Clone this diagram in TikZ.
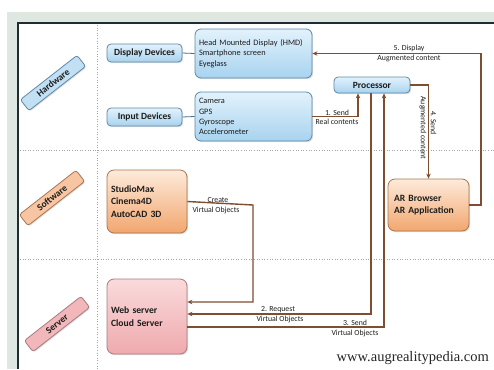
\documentclass[tikz,border=0pt]{standalone}
\usepackage{fontspec}
\setmainfont{Carlito}
\newfontfamily\urlfont{Liberation Serif}
\usetikzlibrary{arrows.meta,shadows}
\definecolor{bluetop}{HTML}{E2F2FC}
\definecolor{bluebot}{HTML}{A8D3EF}
\definecolor{blueline}{HTML}{5F88A8}
\definecolor{orgtop}{HTML}{FDEBDB}
\definecolor{orgbot}{HTML}{F2A66E}
\definecolor{orgline}{HTML}{A8764F}
\definecolor{pinktop}{HTML}{FADADB}
\definecolor{pinkbot}{HTML}{EFAAAE}
\definecolor{pinkline}{HTML}{A87C7E}
\definecolor{brownarr}{HTML}{7E4E30}
\definecolor{frameband}{HTML}{DFE7E1}
\definecolor{framedark}{HTML}{1E2C33}
\definecolor{txt}{HTML}{1C1C1C}
\tikzset{
  base/.style={rounded corners=4pt, draw, line width=0.8pt, text=txt,
    drop shadow={opacity=0.25, shadow xshift=1.2pt, shadow yshift=-1.2pt}},
  bluebox/.style={base, draw=blueline, top color=bluetop, bottom color=bluebot},
  orgbox/.style={base, draw=orgline, top color=orgtop, bottom color=orgbot},
  pinkbox/.style={base, draw=pinkline, top color=pinktop, bottom color=pinkbot},
  devbox/.style={bluebox, minimum width=75pt, minimum height=18pt, inner sep=1pt,
    font=\fontsize{9.5}{11}\selectfont\bfseries},
  listbox/.style={bluebox, rounded corners=6pt, minimum width=117pt, minimum height=49pt,
    text width=109pt, inner sep=4pt, align=left, font=\fontsize{8.3}{10.3}\selectfont},
  bigbox/.style={rounded corners=7pt, minimum width=80pt, text width=72pt, inner sep=4pt,
    align=left, font=\fontsize{9.6}{12.5}\selectfont\bfseries},
  seclabel/.style={rounded corners=2.5pt, draw, line width=0.8pt, minimum width=72pt,
    minimum height=14pt, inner sep=1pt, rotate=38, text=txt,
    font=\fontsize{9.5}{10}\selectfont\bfseries,
    drop shadow={opacity=0.25, shadow xshift=1pt, shadow yshift=-1pt}},
  arr/.style={draw=brownarr, line width=1.4pt, -{Stealth[length=5pt,width=4.5pt]}},
  gline/.style={draw=blueline!80!black, line width=0.8pt},
  lbl/.style={inner sep=0.5pt, text=txt, font=\fontsize{7.8}{8.5}\selectfont},
  sep/.style={draw=gray!70, line width=0.6pt, dotted},
}
\begin{document}
\begin{tikzpicture}[x=1pt,y=-1pt]
\useasboundingbox (0,0) rectangle (494,369);
% frame
\fill[white] (0,0) rectangle (494,369);
\fill[frameband] (7,12) rectangle (494,369);
\fill[white] (18,23) rectangle (494,369);
\draw[framedark, line width=2.6pt] (18,369) -- (18,23) -- (494,23);
% separators
\draw[sep] (97,25) -- (97,369);
\draw[sep] (20,150) -- (494,150);
\draw[sep] (20,259) -- (494,259);
% section labels
\node[seclabel, draw=blueline, fill=bluebot!70!white] (hw) at (53,83) {Hardware};
\node[seclabel, draw=orgline, fill=orgbot!65!white] (sw) at (52,198) {Software};
\node[seclabel, draw=pinkline, fill=pinkbot!85!white] (sv) at (57,324) {Server};
% hardware
\node[devbox] (dd) at (144.5,53) {Display Devices};
\node[devbox] (id) at (144.5,117) {Input Devices};
\node[listbox] (dl) at (253.5,53.5) {Head Mounted Display (HMD)\\Smartphone screen\\Eyeglass};
\node[listbox] (il) at (253.5,116.5) {Camera\\GPS\\Gyroscope\\Accelerometer};
\node[bluebox, minimum width=76pt, minimum height=16pt, inner sep=1pt,
  font=\fontsize{9.5}{11}\selectfont\bfseries] (proc) at (372,85) {Processor};
% software / server / AR
\node[orgbox, bigbox, minimum height=63pt] (studio) at (147,201.5) {StudioMax\\Cinema4D\\AutoCAD 3D};
\node[pinkbox, bigbox, minimum height=75pt] (web) at (147,316.5) {Web server\\Cloud Server};
\node[orgbox, bigbox, minimum width=81pt, text width=69pt, minimum height=52pt, inner sep=6pt] (arb) at (428.5,205) {AR Browser\\AR Application};
% device connectors
\draw[gline] (dd.east) -- (dl.west);
\draw[gline] (id.east) -- (il.west);
% flows
\draw[arr] (il.east) -| ([xshift=-14pt]proc.south);
\node[lbl, anchor=south] (l1a) at (337,116) {1. Send};
\node[lbl, anchor=north] (l1b) at (337,118) {Real contents};
\coordinate (c5) at (481,205);
\draw[arr] (arb.east) -- (c5) |- (dl.east);
\node[lbl, anchor=south] (l5a) at (409,52) {5. Display};
\node[lbl, anchor=north] (l5b) at (409,54.5) {Augmented content};
\draw[arr] (proc.east) -| (arb.north);
\node[lbl, rotate=-90, anchor=south] (l4a) at (430,123) {4. Send};
\node[lbl, rotate=-90, anchor=north] (l4b) at (427,128) {Augmented content};
\coordinate (c2) at (253,205);
\draw[arr] (studio.east) -- (c2) |- ([yshift=14.5pt]web.east);
\node[lbl, anchor=south] (lca) at (218,203.5) {Create};
\node[lbl, anchor=north] (lcb) at (216,206) {Virtual Objects};
\draw[arr] ([xshift=-1pt]proc.south) |- ([yshift=2.5pt]web.east);
\node[lbl, anchor=south] (l2a) at (278,313) {2. Request};
\node[lbl, anchor=north] (l2b) at (280,315.5) {Virtual Objects};
\coordinate (c3) at (384,327);
\draw[arr] ([yshift=-10.5pt]web.east) -- (c3) -- ([xshift=12pt]proc.south);
\node[lbl, anchor=south] (l3a) at (355,326.5) {3. Send};
\node[lbl, anchor=north] (l3b) at (355,329) {Virtual Objects};
% url
\node[font=\urlfont\fontsize{14.5}{15}\selectfont, text=black!85, inner sep=0pt, anchor=east] (url) at (489,358) {www.augrealitypedia.com};
\end{tikzpicture}
\end{document}
